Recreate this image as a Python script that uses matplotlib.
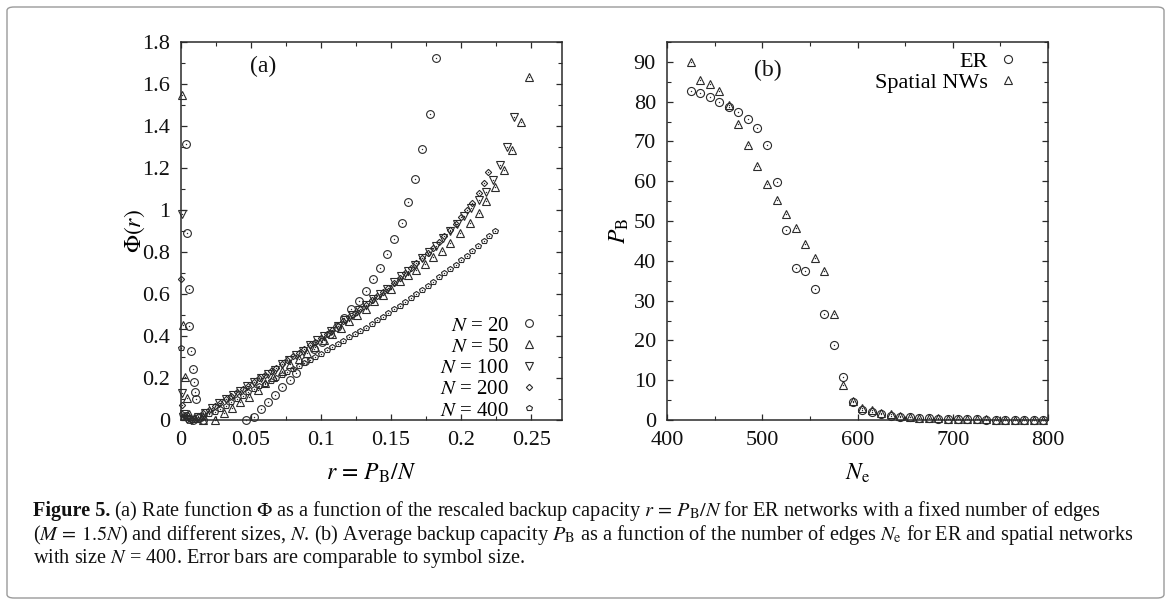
import matplotlib
matplotlib.use("Agg")
import matplotlib.pyplot as plt
from matplotlib.patches import FancyBboxPatch
from matplotlib.ticker import MultipleLocator, FixedLocator

plt.rcParams["font.family"] = ["Liberation Serif", "DejaVu Serif"]
plt.rcParams["mathtext.fontset"] = "stix"

INK = "#2a2a2a"

# ---- panel (a): rate function Phi(r) for different N ----
r_n20 = [0.0033, 0.0045, 0.0057, 0.0060, 0.0074, 0.0086, 0.0093, 0.0103, 0.0110,
         0.0035, 0.0060, 0.0085, 0.0130, 0.0160,
         0.0466, 0.0519, 0.0571, 0.0619, 0.0674, 0.0720, 0.0776, 0.0824, 0.0888,
         0.0952, 0.1007, 0.1062, 0.1114, 0.1166, 0.1216, 0.1271, 0.1324, 0.1371,
         0.1419, 0.1471, 0.1524, 0.1579, 0.1624, 0.1674, 0.1724, 0.1776, 0.1824]
phi_n20 = [1.314, 0.889, 0.625, 0.448, 0.330, 0.241, 0.183, 0.135, 0.099,
           0.020, 0.005, 0.000, 0.010, 0.000,
           0.000, 0.016, 0.051, 0.087, 0.119, 0.156, 0.189, 0.222, 0.280,
           0.337, 0.373, 0.410, 0.444, 0.484, 0.528, 0.567, 0.616, 0.670,
           0.725, 0.790, 0.860, 0.940, 1.038, 1.146, 1.289, 1.457, 1.725]

r_n50 = [0.0010, 0.0014, 0.0030, 0.0043, 0.0060, 0.0090, 0.0160,
         0.0245, 0.0305, 0.0364, 0.0424, 0.0488, 0.0548, 0.0600, 0.0660, 0.0720,
         0.0780, 0.0840, 0.0900, 0.0960, 0.1020, 0.1080, 0.1140, 0.1200, 0.1260,
         0.1320, 0.1380, 0.1440, 0.1500, 0.1560, 0.1620, 0.1680, 0.1740, 0.1800,
         0.1860, 0.1920, 0.1995, 0.2062, 0.2126, 0.2180, 0.2245, 0.2304, 0.2364,
         0.2424, 0.2483]
phi_n50 = [1.548, 0.451, 0.206, 0.103, 0.030, 0.010, 0.000,
           0.000, 0.032, 0.056, 0.087, 0.111, 0.143, 0.175, 0.205, 0.235,
           0.265, 0.290, 0.320, 0.350, 0.380, 0.410, 0.440, 0.470, 0.500,
           0.530, 0.565, 0.595, 0.625, 0.660, 0.690, 0.715, 0.745, 0.775,
           0.805, 0.845, 0.892, 0.940, 0.987, 1.044, 1.111, 1.190, 1.286,
           1.420, 1.635]

r_n100 = [0.0005, 0.0009, 0.0020, 0.0040,
          0.007, 0.012, 0.017, 0.022, 0.027, 0.032, 0.037, 0.042, 0.047, 0.052,
          0.057, 0.062, 0.067, 0.072, 0.077, 0.082, 0.087, 0.092, 0.097, 0.102,
          0.107, 0.112, 0.117, 0.122, 0.127, 0.132, 0.137, 0.142, 0.147, 0.152,
          0.157, 0.162, 0.167, 0.172, 0.177, 0.182, 0.187, 0.192, 0.197, 0.202,
          0.207, 0.2124, 0.2174, 0.2229, 0.2276, 0.2329, 0.2376]
phi_n100 = [0.980, 0.127, 0.030, 0.005,
            0.000, 0.015, 0.035, 0.055, 0.080, 0.100, 0.120, 0.140, 0.160, 0.180,
            0.200, 0.220, 0.240, 0.265, 0.285, 0.310, 0.330, 0.355, 0.380, 0.400,
            0.425, 0.450, 0.475, 0.500, 0.525, 0.550, 0.575, 0.600, 0.625, 0.655,
            0.685, 0.710, 0.740, 0.770, 0.800, 0.830, 0.865, 0.900, 0.935, 0.970,
            1.010, 1.050, 1.087, 1.143, 1.214, 1.300, 1.441]

r_n200 = [0.000, 0.001, 0.003,
          0.008, 0.012, 0.016, 0.020, 0.024, 0.028, 0.032, 0.036, 0.040, 0.044,
          0.048, 0.052, 0.056, 0.060, 0.064, 0.068, 0.072, 0.076, 0.080, 0.084,
          0.088, 0.092, 0.096, 0.100, 0.104, 0.108, 0.112, 0.116, 0.120, 0.124,
          0.128, 0.132, 0.136, 0.140, 0.144, 0.148, 0.152, 0.156, 0.160, 0.164,
          0.168, 0.172, 0.176, 0.180, 0.184, 0.188, 0.192, 0.196, 0.200, 0.204,
          0.208, 0.2131, 0.2161, 0.2193]
phi_n200 = [0.670, 0.071, 0.020,
            0.000, 0.017, 0.033, 0.050, 0.066, 0.083, 0.099, 0.115, 0.131, 0.148,
            0.164, 0.181, 0.198, 0.216, 0.233, 0.250, 0.268, 0.285, 0.303, 0.320,
            0.338, 0.355, 0.373, 0.390, 0.410, 0.430, 0.450, 0.470, 0.490, 0.510,
            0.530, 0.550, 0.570, 0.590, 0.610, 0.630, 0.652, 0.676, 0.700, 0.723,
            0.747, 0.770, 0.794, 0.820, 0.850, 0.875, 0.905, 0.935, 0.965, 1.000,
            1.035, 1.079, 1.127, 1.182]

r_n400 = [0.000, 0.001, 0.004, 0.008,
          0.012, 0.016, 0.020, 0.024, 0.028, 0.032, 0.036, 0.040, 0.044, 0.048,
          0.052, 0.056, 0.060, 0.064, 0.068, 0.072, 0.076, 0.080, 0.084, 0.088,
          0.092, 0.096, 0.100, 0.104, 0.108, 0.112, 0.116, 0.120, 0.124, 0.128,
          0.132, 0.136, 0.140, 0.144, 0.148, 0.152, 0.156, 0.160, 0.164, 0.168,
          0.172, 0.176, 0.180, 0.184, 0.188, 0.192, 0.196, 0.200, 0.204, 0.208,
          0.212, 0.216, 0.220, 0.224]
phi_n400 = [0.344, 0.030, 0.010, 0.000,
            0.000, 0.013, 0.027, 0.040, 0.053, 0.068, 0.084, 0.100, 0.116, 0.132,
            0.147, 0.160, 0.173, 0.186, 0.199, 0.212, 0.227, 0.241, 0.256, 0.270,
            0.285, 0.300, 0.315, 0.331, 0.346, 0.362, 0.377, 0.393, 0.409, 0.424,
            0.440, 0.457, 0.475, 0.492, 0.510, 0.527, 0.545, 0.563, 0.582, 0.601,
            0.620, 0.638, 0.658, 0.679, 0.699, 0.719, 0.740, 0.760, 0.783, 0.807,
            0.830, 0.853, 0.877, 0.900]

# ---- panel (b): backup capacity vs number of edges ----
n_edges = [425, 435, 445, 455, 465, 475, 485, 495, 505, 515, 525, 535, 545,
           555, 565, 575, 585, 595, 605, 615, 625, 635, 645, 655, 665, 675,
           685, 695, 705, 715, 725, 735, 745, 755, 765, 775, 785, 795]
pb_er = [82.7, 82.3, 81.2, 80.0, 78.7, 77.4, 75.6, 73.4, 69.0, 59.9, 47.7, 38.1,
         37.5, 32.9, 26.6, 18.8, 10.7, 4.4, 2.6, 1.9, 1.4, 1.1, 0.85, 0.65, 0.5,
         0.4, 0.32, 0.26, 0.21, 0.17, 0.14, 0.12, 0.10, 0.08, 0.07, 0.06, 0.05,
         0.04]
pb_spatial = [90.0, 85.4, 84.5, 82.7, 79.1, 74.3, 69.0, 63.8, 59.2, 55.2, 51.7,
              48.2, 44.2, 40.6, 37.4, 26.6, 8.7, 4.8, 3.0, 2.4, 1.8, 1.4, 1.05,
              0.8, 0.6, 0.5, 0.4, 0.32, 0.26, 0.21, 0.17, 0.14, 0.12, 0.10, 0.08,
              0.07, 0.06, 0.05]

series_a = [
    (r_n20, phi_n20, "o", 5.6, r"$N$ = 20"),
    (r_n50, phi_n50, "^", 5.4, r"$N$ = 50"),
    (r_n100, phi_n100, "v", 5.4, r"$N$ = 100"),
    (r_n200, phi_n200, "D", 3.2, r"$N$ = 200"),
    (r_n400, phi_n400, "p", 4.2, r"$N$ = 400"),
]


def points(ax, x, y, marker, ms, label):
    ax.plot(x, y, ls="none", marker=marker, ms=ms, mfc="none", mec=INK,
            mew=0.8, label=label, clip_on=False, zorder=3)
    ax.plot(x, y, ls="none", marker="o", ms=1.0, mfc=INK, mec=INK,
            mew=0.0, clip_on=False, zorder=3)


def style_axes(ax):
    for s in ax.spines.values():
        s.set_color(INK)
        s.set_linewidth(1.1)
    ax.tick_params(which="both", direction="in", top=True, right=True,
                   colors=INK, labelcolor="#111111", labelsize=16, pad=8)
    ax.tick_params(which="major", length=4.5, width=0.9)
    ax.tick_params(which="minor", length=3, width=0.8)


fig = plt.figure(figsize=(11.71, 6.05), dpi=100)
fig.patches.append(FancyBboxPatch((7 / 1171, 7 / 605), 1157 / 1171, 591 / 605,
                                  boxstyle="round,pad=0,rounding_size=0.006",
                                  transform=fig.transFigure, fc="white",
                                  ec="#9a9a9a", lw=1.0, zorder=-1))

ax1 = fig.add_axes([181 / 1171, 1 - 420 / 605, 381 / 1171, 378 / 605])
ax2 = fig.add_axes([667 / 1171, 1 - 420 / 605, 381 / 1171, 378 / 605])

for x, y, m, ms, lab in series_a:
    points(ax1, x, y, m, ms, lab)
ax1.set_xlim(0, 0.272)
ax1.set_ylim(0, 1.8)
ax1.xaxis.set_major_locator(FixedLocator([0, 0.05, 0.1, 0.15, 0.2, 0.25]))
ax1.set_xticklabels(["0", "0.05", "0.1", "0.15", "0.2", "0.25"])
ax1.xaxis.set_minor_locator(MultipleLocator(0.025))
ax1.yaxis.set_major_locator(FixedLocator([0, 0.2, 0.4, 0.6, 0.8, 1, 1.2, 1.4, 1.6, 1.8]))
ax1.set_yticklabels(["0", "0.2", "0.4", "0.6", "0.8", "1", "1.2", "1.4", "1.6", "1.8"])
ax1.yaxis.set_minor_locator(MultipleLocator(0.1))
style_axes(ax1)
ax1.set_xlabel(r"$r\,=\,P_{\mathrm{B}}/N$", fontsize=17)
ax1.xaxis.set_label_coords(0.5, -0.11)
ax1.set_ylabel(r"$\Phi(r)$", fontsize=17)
ax1.yaxis.set_label_coords(-0.088, 0.5)
ax1.text(0.215, 0.935, "(a)", transform=ax1.transAxes, fontsize=17,
         ha="center", va="center", color="#111111")
ax1.legend(loc="lower right", markerfirst=False, frameon=False, fontsize=15,
           handlelength=1.2, handletextpad=0.35, labelspacing=0.08,
           borderaxespad=0.3, bbox_to_anchor=(0.985, -0.04))

points(ax2, n_edges, pb_er, "o", 5.8, "ER")
points(ax2, n_edges, pb_spatial, "^", 5.4, "Spatial NWs")
ax2.set_xlim(400, 800)
ax2.set_ylim(0, 95)
ax2.xaxis.set_major_locator(MultipleLocator(100))
ax2.xaxis.set_minor_locator(MultipleLocator(50))
ax2.yaxis.set_major_locator(MultipleLocator(10))
ax2.yaxis.set_minor_locator(MultipleLocator(5))
style_axes(ax2)
ax2.set_xlabel(r"$N_{\mathrm{e}}$", fontsize=17)
ax2.xaxis.set_label_coords(0.5, -0.11)
ax2.set_ylabel(r"$P_{\mathrm{B}}$", fontsize=17)
ax2.yaxis.set_label_coords(-0.095, 0.5)
ax2.text(0.265, 0.925, "(b)", transform=ax2.transAxes, fontsize=17,
         ha="center", va="center", color="#111111")
ax2.legend(loc="upper right", markerfirst=False, frameon=False, fontsize=16,
           handlelength=1.2, handletextpad=0.3, labelspacing=0.0,
           borderaxespad=0.2, bbox_to_anchor=(0.965, 1.01))

# ---- caption ----
cap_size = 14.6
cx, cy = 33 / 1171, 1 - 511 / 605
head = fig.text(cx, cy, "Figure 5.", fontsize=cap_size, fontweight="bold",
                va="center", ha="left", color="#111111")
fig.canvas.draw()
w = head.get_window_extent(fig.canvas.get_renderer()).width / 1171
fig.text(cx + w + 4 / 1171, cy,
         r"(a) Rate function $\Phi$ as a function of the rescaled backup capacity "
         r"$r\,=\,P_{\mathrm{B}}/N$ for ER networks with a fixed number of edges",
         fontsize=cap_size, va="center", ha="left", color="#111111")
fig.text(cx, 1 - 535 / 605,
         r"($M\,=\,1.5N$) and different sizes, $N$. (b) Average backup capacity "
         r"$P_{\mathrm{B}}$ as a function of the number of edges $N_{\mathrm{e}}$ "
         r"for ER and spatial networks",
         fontsize=cap_size, va="center", ha="left", color="#111111")
fig.text(cx, 1 - 558 / 605,
         r"with size $N$ = 400. Error bars are comparable to symbol size.",
         fontsize=cap_size, va="center", ha="left", color="#111111")

fig.savefig("out.png", dpi=100)
